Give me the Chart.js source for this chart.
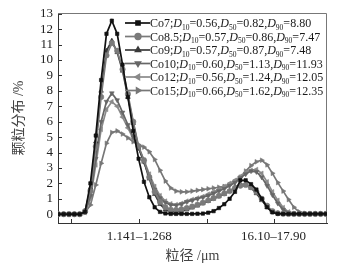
<!DOCTYPE html>
<html><head><meta charset="utf-8">
<script src="https://cdn.jsdelivr.net/npm/chart.js@4.4.0/dist/chart.umd.min.js"></script>
<style>html,body{margin:0;padding:0;background:#fff}#wrap{width:341px;height:269px}</style>
</head><body><div id="wrap"><canvas id="c" width="341" height="269"></canvas></div>
<script>
// x positions: particle-size bin index
const binIndex = [0,1,2,3,4,5,6,7,8,9,10,11,12,13,14,15,16,17,18,19,20,21,22,23,24,25,26,27,28,29,30,31,32,33,34,35,36,37,38,39,40,41,42,43,44,45,46,47,48,49,50];
const xTickPos = [2.4, 15.1, 27.7, 40.2];
const xTickLabels = ['', '1.141\u20131.268', '', '16.10\u201317.90'];
const yTicks = [0,1,2,3,4,5,6,7,8,9,10,11,12,13];

const names = ['Co7','Co8.5','Co9','Co10','Co12','Co15'];
const d10 = ['0.56','0.57','0.57','0.60','0.56','0.66'];
const d50 = ['0.82','0.86','0.87','1.13','1.24','1.62'];
const d90 = ['8.80','7.47','7.48','11.93','12.05','12.35'];

const co7  = [0,0,0,0,0,0.15,2.0,5.1,8.7,11.7,12.55,11.7,9.7,7.6,5.4,3.6,2.1,1.1,0.45,0.15,0.05,0.02,0.02,0.02,0.02,0.02,0.03,0.04,0.1,0.2,0.4,0.65,1.0,1.45,2.2,2.2,1.95,1.6,1.0,0.45,0.12,0.03,0.02,0.02,0.02,0.02,0.02,0.02,0.02,0.02,0.02];
const co85 = [0,0,0,0,0,0.2,1.5,4.4,7.6,10.3,11.1,10.6,9.4,7.8,6.0,4.4,3.5,2.4,1.45,0.8,0.45,0.3,0.28,0.32,0.4,0.5,0.62,0.75,0.9,1.05,1.2,1.35,1.5,1.7,1.85,1.9,1.75,1.45,1.0,0.55,0.2,0.06,0.03,0.02,0.02,0.02,0.02,0.02,0.02,0.02,0.02];
const co9  = [0,0,0,0,0,0.2,1.7,4.7,8.0,10.6,11.25,10.5,9.3,7.6,5.9,4.3,3.4,2.3,1.3,0.65,0.3,0.15,0.15,0.2,0.3,0.42,0.55,0.7,0.85,1.0,1.15,1.3,1.5,1.75,1.95,1.9,1.7,1.35,0.9,0.45,0.15,0.05,0.03,0.02,0.02,0.02,0.02,0.02,0.02,0.02,0.02];
const co10 = [0,0,0,0,0,0.15,1.2,3.6,6.0,7.3,7.85,7.4,6.6,5.8,5.0,4.3,3.4,2.4,1.6,1.05,0.75,0.6,0.58,0.65,0.8,0.9,1.0,1.1,1.2,1.35,1.5,1.65,1.85,2.05,2.35,2.6,2.8,2.75,2.4,1.85,1.25,0.7,0.3,0.1,0.03,0.02,0.02,0.02,0.02,0.02,0.02];
const co12 = [0,0,0,0,0,0.1,1.0,3.2,5.5,6.8,7.3,7.0,6.3,5.6,4.9,4.3,3.5,2.6,1.8,1.2,0.85,0.68,0.62,0.7,0.85,0.95,1.05,1.15,1.3,1.45,1.6,1.8,2.0,2.2,2.45,2.7,2.85,2.9,2.65,2.1,1.45,0.9,0.43,0.15,0.05,0.02,0.02,0.02,0.02,0.02,0.02];
const co15 = [0,0,0,0,0,0.1,0.6,1.9,3.3,4.6,5.3,5.4,5.2,4.95,4.7,4.5,4.35,4.05,3.55,2.85,2.15,1.7,1.5,1.45,1.45,1.5,1.55,1.6,1.65,1.7,1.75,1.8,1.9,2.1,2.4,2.8,3.15,3.4,3.5,3.2,2.65,2.05,1.5,0.95,0.45,0.15,0.05,0.03,0.03,0.03,0.03];

const seriesValues = [co7, co85, co9, co10, co12, co15];
const colors = ['#111111','#7a7a7a','#3a3a3a','#666666','#8a8a8a','#777777'];
const styles = ['rect','circle','triangle','triangle','triangle','triangle'];
const rotations = [0,0,0,180,270,90];

const serif = "'Liberation Serif','Times New Roman',serif";
const cjk = "'Liberation Serif','Noto Sans CJK SC',serif";

const datasets = seriesValues.map((vals, k) => ({
  label: names[k],
  data: vals.map((v, i) => ({x: binIndex[i], y: v})),
  borderColor: colors[k],
  backgroundColor: colors[k],
  pointBackgroundColor: colors[k],
  pointBorderColor: colors[k],
  borderWidth: 1.7,
  pointStyle: styles[k],
  pointRotation: rotations[k],
  pointRadius: k === 0 ? 2.4 : 2.7,
  pointBorderWidth: 0.6,
  tension: 0
}));

const framePlugin = {
  id: 'frame',
  beforeDatasetsDraw(chart) {
    const {ctx, chartArea: a, scales} = chart;
    ctx.save();
    ctx.strokeStyle = '#777';
    ctx.lineWidth = 1;
    ctx.beginPath();
    ctx.moveTo(a.left, a.top + 0.5); ctx.lineTo(a.right - 0.5, a.top + 0.5);
    ctx.lineTo(a.right - 0.5, a.bottom);
    ctx.stroke();
    ctx.strokeStyle = '#333';
    ctx.beginPath();
    scales.y.ticks.forEach(t => {
      const y = Math.round(scales.y.getPixelForValue(t.value)) + 0.5;
      ctx.moveTo(a.left, y); ctx.lineTo(a.left + 4, y);
    });
    scales.x.ticks.forEach(t => {
      const x = Math.round(scales.x.getPixelForValue(t.value)) + 0.5;
      ctx.moveTo(x, a.bottom); ctx.lineTo(x, a.bottom - 4);
    });
    ctx.stroke();
    ctx.restore();
  }
};

const legendPlugin = {
  id: 'customLegend',
  afterDraw(chart) {
    const {ctx} = chart;
    const x0 = 125, x1 = 150, textX = 150, top = 23, step = 13.5;
    ctx.save();
    chart.data.datasets.forEach((ds, k) => {
      const y = top + step * k;
      ctx.strokeStyle = ds.borderColor;
      ctx.fillStyle = ds.borderColor;
      ctx.lineWidth = 1.7;
      ctx.beginPath(); ctx.moveTo(x0, y); ctx.lineTo(x1, y); ctx.stroke();
      if (Chart.helpers && Chart.helpers.drawPoint) {
        Chart.helpers.drawPoint(ctx, {pointStyle: ds.pointStyle, rotation: ds.pointRotation, radius: 2.8, borderWidth: 0.6}, 138, y);
      }
      const parts = [
        {t: names[k] + ';'},
        {t: 'D', it: true}, {t: '10', sub: true}, {t: '=' + d10[k] + ','},
        {t: 'D', it: true}, {t: '50', sub: true}, {t: '=' + d50[k] + ','},
        {t: 'D', it: true}, {t: '90', sub: true}, {t: '=' + d90[k]}
      ];
      let x = textX;
      ctx.fillStyle = '#1a1a1a';
      ctx.textBaseline = 'alphabetic';
      ctx.textAlign = 'left';
      const base = y + 4.3;
      parts.forEach(p => {
        if (p.sub) { ctx.font = '7.5px ' + serif; ctx.fillText(p.t, x, base + 2.5); }
        else if (p.it) { ctx.font = 'italic 12px ' + serif; ctx.fillText(p.t, x, base); }
        else { ctx.font = '12px ' + serif; ctx.fillText(p.t, x, base); }
        x += ctx.measureText(p.t).width;
      });
    });
    ctx.restore();
  }
};

new Chart(document.getElementById('c'), {
  type: 'line',
  data: {datasets},
  plugins: [framePlugin, legendPlugin],
  options: {
    responsive: false,
    animation: false,
    devicePixelRatio: 1,
    layout: {padding: {left: 0, right: 14, top: 13, bottom: 0}},
    plugins: {legend: {display: false}, tooltip: {enabled: false}},
    scales: {
      x: {
        type: 'linear', min: -0.056, max: 50.19,
        grid: {display: false, drawTicks: false},
        border: {display: true, color: '#333', width: 1},
        afterBuildTicks: s => { s.ticks = xTickPos.map(v => ({value: v})); },
        afterFit: s => { s.height = 46; },
        ticks: {padding: 6, autoSkip: false, maxRotation: 0, color: '#222',
          font: {family: serif, size: 13},
          callback: (v, i) => xTickLabels[i]},
        title: {display: true, text: '粒径 /μm', color: '#444',
          font: {family: cjk, size: 14}, padding: {top: 0, bottom: 4}}
      },
      y: {
        min: -0.57, max: 13.05,
        grid: {display: false, drawTicks: false},
        border: {display: true, color: '#333', width: 1},
        afterBuildTicks: s => { s.ticks = yTicks.map(v => ({value: v})); },
        afterFit: s => { s.width = 58; },
        ticks: {padding: 5, autoSkip: false, color: '#222', font: {family: serif, size: 13}},
        title: {display: true, text: '颗粒分布 /%', color: '#444',
          font: {family: cjk, size: 14}, padding: {top: 11, bottom: 0}}
      }
    }
  }
});
</script></body></html>
